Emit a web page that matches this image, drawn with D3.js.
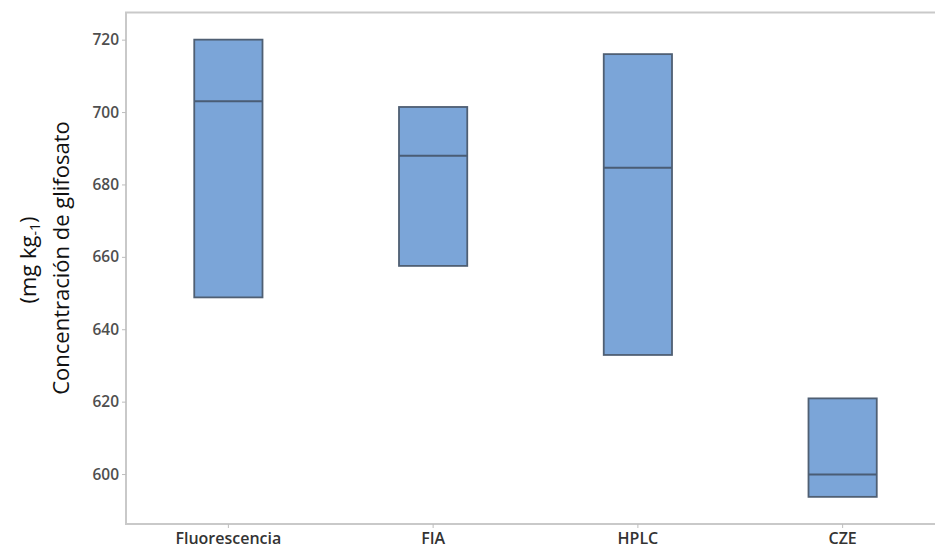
<!DOCTYPE html>
<html>
<head>
<meta charset="utf-8">
<script src="https://cdn.jsdelivr.net/npm/d3@7"></script>
<style>
  html, body { margin: 0; padding: 0; background: #fff; }
  svg { display: block; }
</style>
</head>
<body>
<svg id="chart" width="935" height="552"></svg>
<script>
const categories = ["Fluorescencia", "FIA", "HPLC", "CZE"];
const q1Values = [648.8, 657.5, 632.9, 593.7];
const medianValues = [703.0, 687.9, 684.6, 599.9];
const q3Values = [720.0, 701.4, 716.0, 620.9];
const yTicks = [600, 620, 640, 660, 680, 700, 720];

const W = 935, H = 552;
const margin = { left: 126, top: 12.5, bottom: 28 };
const plotRight = 945;

const svg = d3.select("#chart");

const x = d3.scaleBand().domain(categories).range([margin.left, plotRight]).padding(0);
const y = d3.scaleLinear().domain([586.2, 727.5]).range([H - margin.bottom, margin.top]);

// frame
svg.append("rect")
  .attr("x", margin.left).attr("y", margin.top)
  .attr("width", plotRight - margin.left)
  .attr("height", (H - margin.bottom) - margin.top)
  .attr("fill", "none").attr("stroke", "#c9c9c9").attr("stroke-width", 2);

// y axis
const yAxis = svg.append("g")
  .attr("transform", `translate(${margin.left},0)`)
  .call(d3.axisLeft(y).tickValues(yTicks).tickSize(4).tickPadding(3).tickFormat(d3.format("d")));
yAxis.select(".domain").remove();
yAxis.selectAll(".tick line").attr("stroke", "#bdbdbd");
yAxis.selectAll(".tick text")
  .attr("fill", "#4f4f4f")
  .style("font-family", "'Open Sans', sans-serif")
  .style("font-size", "15.5px")
  .style("font-weight", "600");

// x axis
const xAxis = svg.append("g")
  .attr("transform", `translate(0,${H - margin.bottom})`)
  .call(d3.axisBottom(x).tickSize(4).tickPadding(5));
xAxis.select(".domain").remove();
xAxis.selectAll(".tick line").attr("stroke", "#bdbdbd");
xAxis.selectAll(".tick text")
  .attr("fill", "#333")
  .style("font-family", "'Open Sans', sans-serif")
  .style("font-size", "16px")
  .style("font-weight", "600");

// boxes
const boxW = x.bandwidth() / 3;
const data = categories.map((c, i) => ({ c, q1: q1Values[i], med: medianValues[i], q3: q3Values[i] }));
const g = svg.append("g");
g.selectAll("rect.box").data(data).join("rect")
  .attr("class", "box")
  .attr("x", d => x(d.c) + x.bandwidth() / 2 - boxW / 2)
  .attr("y", d => y(d.q3))
  .attr("width", boxW)
  .attr("height", d => y(d.q1) - y(d.q3))
  .attr("fill", "#7ba5d8")
  .attr("stroke", "#4f5f73")
  .attr("stroke-width", 1.8);
g.selectAll("line.med").data(data).join("line")
  .attr("class", "med")
  .attr("x1", d => x(d.c) + x.bandwidth() / 2 - boxW / 2)
  .attr("x2", d => x(d.c) + x.bandwidth() / 2 + boxW / 2)
  .attr("y1", d => y(d.med)).attr("y2", d => y(d.med))
  .attr("stroke", "#4a5d75")
  .attr("stroke-width", 2);

// y title
const t1 = svg.append("text")
  .attr("transform", `translate(69,258) rotate(-90)`)
  .attr("text-anchor", "middle")
  .style("font-family", "'Open Sans', sans-serif")
  .style("font-size", "22px")
  .attr("fill", "#111")
  .text("Concentración de glifosato");
const t2 = svg.append("text")
  .attr("transform", `translate(36,260) rotate(-90)`)
  .attr("text-anchor", "middle")
  .style("font-family", "'Open Sans', sans-serif")
  .style("font-size", "22px")
  .attr("fill", "#111");
t2.append("tspan").text("(mg kg");
t2.append("tspan").attr("dy", 4).style("font-size", "14px").text("-1");
t2.append("tspan").attr("dy", -4).text(")");
</script>
</body>
</html>
